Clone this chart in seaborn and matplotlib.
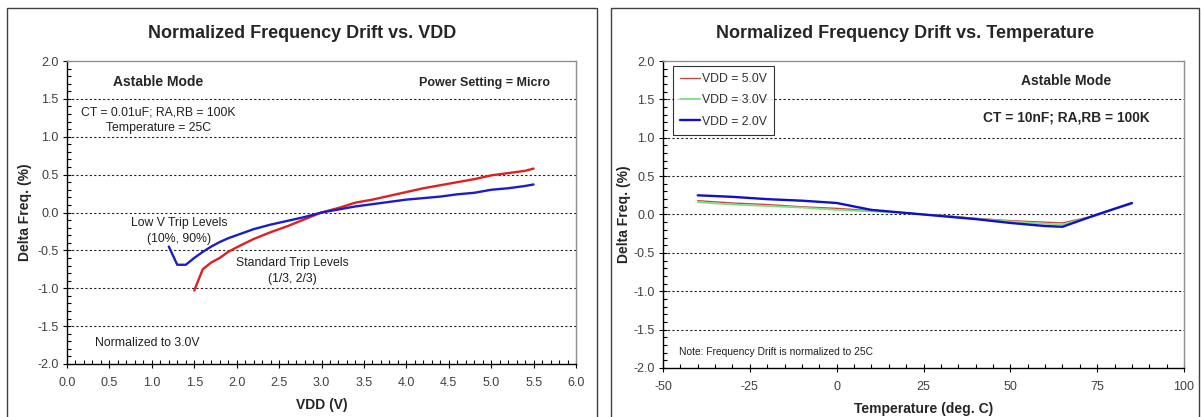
import matplotlib
matplotlib.use("Agg")
import matplotlib.pyplot as plt
import seaborn as sns
import pandas as pd
from matplotlib.patches import Rectangle
from matplotlib.ticker import MultipleLocator, FormatStrFormatter

# left chart: drift vs supply voltage
vdd_std = [1.5, 1.6, 1.7, 1.8, 1.9, 2.0, 2.2, 2.4, 2.6, 2.8, 3.0, 3.2, 3.4,
           3.6, 3.8, 4.0, 4.2, 4.4, 4.6, 4.8, 5.0, 5.2, 5.4, 5.5]
drift_std = [-1.03, -0.75, -0.66, -0.60, -0.52, -0.46, -0.35, -0.26, -0.18,
             -0.09, 0.0, 0.06, 0.13, 0.17, 0.22, 0.27, 0.32, 0.36, 0.40, 0.44,
             0.49, 0.52, 0.55, 0.58]
vdd_lowv = [1.2, 1.3, 1.4, 1.5, 1.6, 1.7, 1.8, 1.9, 2.0, 2.2, 2.4, 2.6, 2.8,
            3.0, 3.2, 3.4, 3.6, 3.8, 4.0, 4.2, 4.4, 4.6, 4.8, 5.0, 5.2, 5.4, 5.5]
drift_lowv = [-0.45, -0.69, -0.69, -0.60, -0.52, -0.45, -0.39, -0.34, -0.30,
              -0.22, -0.16, -0.11, -0.06, 0.0, 0.04, 0.08, 0.11, 0.14, 0.17,
              0.19, 0.21, 0.24, 0.26, 0.30, 0.32, 0.35, 0.37]

# right chart: drift vs temperature
temps = [-40, -30, -20, -10, 0, 10, 20, 25, 30, 40, 50, 60, 65, 70, 75, 80, 85]
drift_5v = [0.18, 0.15, 0.13, 0.10, 0.08, 0.05, 0.02, 0.0, -0.01, -0.05,
            -0.08, -0.10, -0.11, -0.06, -0.01, 0.07, 0.14]
drift_3v = [0.16, 0.13, 0.11, 0.09, 0.06, 0.04, 0.02, 0.0, -0.015, -0.055,
            -0.09, -0.12, -0.13, -0.07, -0.01, 0.07, 0.14]
drift_2v = [0.25, 0.23, 0.20, 0.18, 0.15, 0.06, 0.02, 0.0, -0.02, -0.06,
            -0.11, -0.15, -0.16, -0.08, 0.0, 0.075, 0.15]
temp_series = ["VDD = 5.0V", "VDD = 3.0V", "VDD = 2.0V"]

W, H = 1201, 417

sns.set_style("white")
plt.rcParams["font.family"] = ["Liberation Sans", "DejaVu Sans"]

fig = plt.figure(figsize=(W / 100, H / 100), dpi=100)

# outer frames of the two chart panels
for x0, x1 in [(7, 597), (611, 1199)]:
    fig.patches.append(Rectangle((x0 / W, -0.05), (x1 - x0) / W, 1.05 - 8 / H,
                                 transform=fig.transFigure, fill=False,
                                 edgecolor="#404040", linewidth=1.0))

ax1 = fig.add_axes([67 / W, 1 - 364 / H, 509 / W, 303 / H])
ax2 = fig.add_axes([663 / W, 1 - 368 / H, 521 / W, 307 / H])


def style_axes(ax, xmajor, xminor, xfmt, ylabelpad):
    ax.set_ylim(-2.0, 2.0)
    ax.yaxis.set_major_locator(MultipleLocator(0.5))
    ax.yaxis.set_minor_locator(MultipleLocator(0.1))
    ax.yaxis.set_major_formatter(FormatStrFormatter("%.1f"))
    ax.xaxis.set_major_locator(MultipleLocator(xmajor))
    ax.xaxis.set_minor_locator(MultipleLocator(xminor))
    ax.xaxis.set_major_formatter(FormatStrFormatter(xfmt))
    ax.tick_params(which="major", axis="y", direction="inout", length=6,
                   width=0.8, color="black", labelsize=9, labelcolor="#404040", pad=3)
    ax.tick_params(which="major", axis="x", direction="inout", length=6,
                   width=0.8, color="black", labelsize=9, labelcolor="#404040", pad=6)
    ax.tick_params(which="minor", direction="in", length=3, width=0.8, color="black")
    ax.tick_params(left=True, bottom=True, which="both")
    for side in ["left", "bottom"]:
        ax.spines[side].set_color("black")
        ax.spines[side].set_linewidth(1.0)
    for side in ["top", "right"]:
        ax.spines[side].set_color("#909090")
        ax.spines[side].set_linewidth(1.0)
    ax.grid(False)
    ax.yaxis.grid(True, which="major", linestyle=(0, (2, 2)), color="#222222",
                  linewidth=0.8)
    # no dotted line on the top and bottom limits
    for line, val in zip(ax.get_ygridlines(), ax.get_yticks()):
        if abs(abs(val) - 2.0) < 1e-6:
            line.set_visible(False)
    ax.set_ylabel("Delta Freq. (%)", fontsize=10, fontweight="bold",
                  labelpad=ylabelpad)


# ---- left: vs VDD ----
df_std = pd.DataFrame({"vdd": vdd_std, "drift": drift_std})
df_lowv = pd.DataFrame({"vdd": vdd_lowv, "drift": drift_lowv})
sns.lineplot(data=df_std, x="vdd", y="drift", ax=ax1, color="#e02020",
             linewidth=1.7, estimator=None, sort=False)
sns.lineplot(data=df_lowv, x="vdd", y="drift", ax=ax1, color="#1c1cc8",
             linewidth=1.7, estimator=None, sort=False)
ax1.set_xlim(0, 6.0)
style_axes(ax1, 0.5, 0.1, "%.1f", ylabelpad=4)
ax1.set_xlabel("VDD (V)", fontsize=10, fontweight="bold", labelpad=7)

ax1.text(1.07, 1.72, "Astable Mode", ha="center", va="center", fontsize=10,
         fontweight="bold")
ax1.text(4.92, 1.71, "Power Setting = Micro", ha="center", va="center",
         fontsize=9, fontweight="bold")
note_kw = dict(ha="center", va="center", fontsize=8.8, color="#202020")
ax1.text(1.08, 1.32, "CT = 0.01uF; RA,RB = 100K", **note_kw)
ax1.text(1.08, 1.12, "Temperature = 25C", **note_kw)
ax1.text(1.32, -0.14, "Low V Trip Levels", **note_kw)
ax1.text(1.32, -0.35, "(10%, 90%)", **note_kw)
ax1.text(2.66, -0.67, "Standard Trip Levels", **note_kw)
ax1.text(2.66, -0.88, "(1/3, 2/3)", **note_kw)
ax1.text(0.95, -1.72, "Normalized to 3.0V", **note_kw)

# ---- right: vs temperature ----
df_temp = pd.DataFrame({
    "temp": temps * 3,
    "drift": drift_5v + drift_3v + drift_2v,
    "series": [s for s in temp_series for _ in temps],
})
sns.lineplot(data=df_temp, x="temp", y="drift", hue="series",
             hue_order=temp_series, size="series", size_order=temp_series,
             sizes={"VDD = 5.0V": 1.0, "VDD = 3.0V": 1.3, "VDD = 2.0V": 1.7},
             palette={"VDD = 5.0V": "#c84848", "VDD = 3.0V": "#80e080",
                      "VDD = 2.0V": "#1010c8"},
             ax=ax2, estimator=None, sort=False)
ax2.set_xlim(-50, 100)
style_axes(ax2, 25, 5, "%d", ylabelpad=2)
ax2.set_xlabel("Temperature (deg. C)", fontsize=10, fontweight="bold", labelpad=7)

leg = ax2.legend(loc="upper left", bbox_to_anchor=(0.019, 0.984),
                 borderaxespad=0, fontsize=8.8, frameon=True, fancybox=False,
                 handlelength=1.6, handletextpad=0.2, labelspacing=0.75,
                 borderpad=0.6)
leg.get_frame().set_edgecolor("black")
leg.get_frame().set_linewidth(0.8)
for text in leg.get_texts():
    text.set_color("#303030")

ax2.text(66, 1.74, "Astable Mode", ha="center", va="center", fontsize=10,
         fontweight="bold")
ax2.text(66, 1.27, "CT = 10nF; RA,RB = 100K", ha="center", va="center",
         fontsize=9.9, fontweight="bold")
ax2.text(-45.5, -1.79, "Note: Frequency Drift is normalized to 25C",
         ha="left", va="center", fontsize=7.4, color="#202020")

fig.text(302 / W, 1 - 34 / H, "Normalized Frequency Drift vs. VDD",
         ha="center", va="center", fontsize=13, fontweight="bold")
fig.text(905 / W, 1 - 34 / H, "Normalized Frequency Drift vs. Temperature",
         ha="center", va="center", fontsize=13, fontweight="bold")

fig.savefig("out.png", dpi=100)
